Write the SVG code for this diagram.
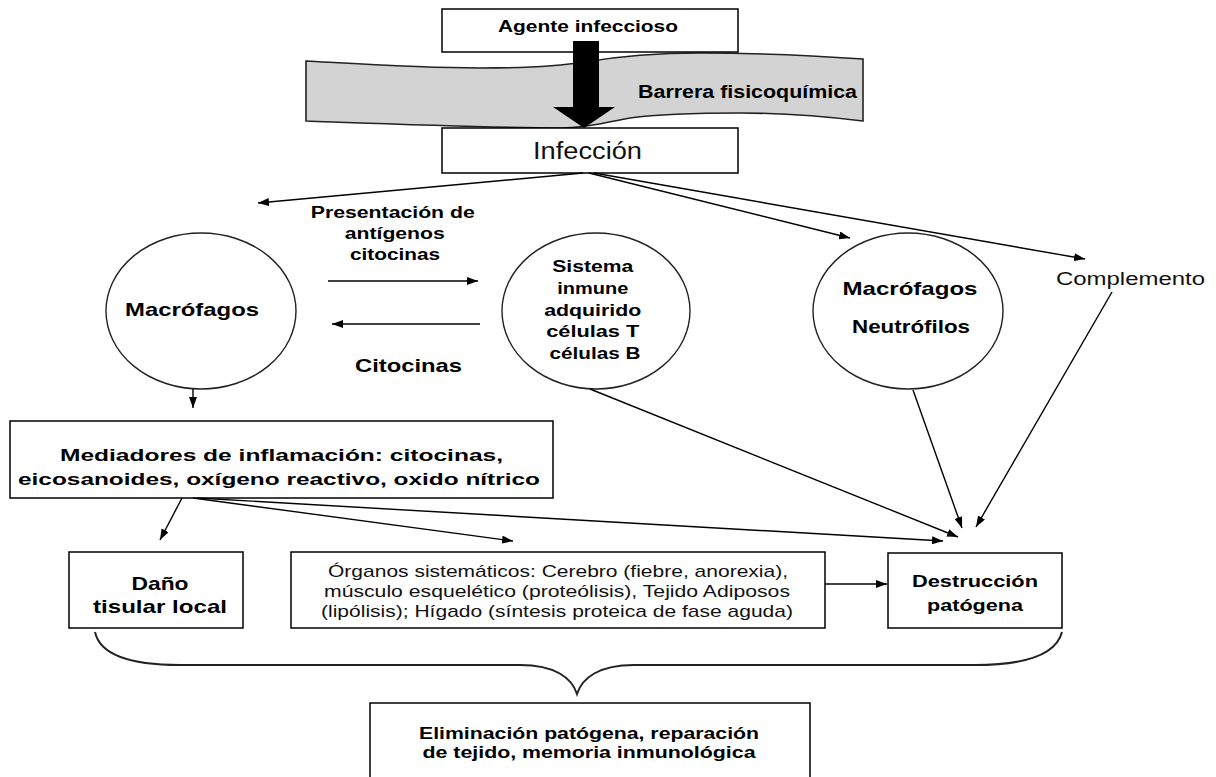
<svg xmlns="http://www.w3.org/2000/svg" width="1216" height="777" viewBox="0 0 1216 777">
<defs>
<marker id="ah" markerUnits="userSpaceOnUse" markerWidth="11" markerHeight="8" refX="11" refY="4" orient="auto">
<path d="M0,0 L11,4 L0,8 z" fill="#000"/>
</marker>
<style>
.box{fill:#fff;stroke:#000;stroke-width:1.5}
.circ{fill:#fff;stroke:#222;stroke-width:1.4}
.b{font-family:"Liberation Sans",Arial,sans-serif;font-weight:bold;fill:#000}
.r{font-family:"Liberation Sans",Arial,sans-serif;fill:#111}
.ln{fill:none;stroke:#000;stroke-width:1.4;marker-end:url(#ah)}
</style>
</defs>
<rect width="1216" height="777" fill="#fff"/>

<g id="barrera">
<path d="M306 61 C360 64 420 68 480 68 C530 68 560 66 585 62 C620 56 660 53 700 53 C760 53 820 56 863 59 L863 121 C830 117 780 113 740 113 C700 113 660 114 630 118 C600 124 580 128 560 128 C500 128 420 125 306 121 Z" fill="#d3d3d3" stroke="#222" stroke-width="1.6"/>
<text class="b" x="638" y="98" font-size="18" textLength="219" lengthAdjust="spacingAndGlyphs">Barrera fisicoquímica</text>
</g>

<g id="agente">
<rect class="box" x="442" y="9" width="296" height="43"/>
<text class="b" x="588" y="32" font-size="17" text-anchor="middle" textLength="180" lengthAdjust="spacingAndGlyphs">Agente infeccioso</text>
</g>

<g id="infeccion">
<rect class="box" x="442" y="128" width="296" height="45"/>
<text class="r" x="533" y="159" font-size="23" textLength="109" lengthAdjust="spacingAndGlyphs">Infección</text>
</g>

<g id="flecha-negra">
<path d="M573 41 L599 41 L599 107 L615 107 L584 128 L553 107 L573 107 Z" fill="#000"/>
</g>

<g id="macrofagos">
<ellipse class="circ" cx="201" cy="311" rx="95" ry="78"/>
<text class="b" x="192" y="316" font-size="19" text-anchor="middle" textLength="134" lengthAdjust="spacingAndGlyphs">Macrófagos</text>
</g>

<g id="sistema">
<ellipse class="circ" cx="596" cy="311" rx="94" ry="78"/>
<text class="b" font-size="16" text-anchor="middle">
<tspan x="595" y="272" textLength="81" lengthAdjust="spacingAndGlyphs">Sistema</tspan>
<tspan x="595" y="294" textLength="71" lengthAdjust="spacingAndGlyphs">inmune</tspan>
<tspan x="595" y="316" textLength="97" lengthAdjust="spacingAndGlyphs">adquirido</tspan>
<tspan x="595" y="337" textLength="93" lengthAdjust="spacingAndGlyphs">células T</tspan>
<tspan x="595" y="359" textLength="91" lengthAdjust="spacingAndGlyphs">células B</tspan>
</text>
</g>

<g id="macneut">
<ellipse class="circ" cx="908" cy="311" rx="95" ry="78"/>
<text class="b" x="910" y="295" font-size="19" text-anchor="middle" textLength="135" lengthAdjust="spacingAndGlyphs">Macrófagos</text>
<text class="b" x="911" y="333" font-size="19" text-anchor="middle" textLength="118" lengthAdjust="spacingAndGlyphs">Neutrófilos</text>
</g>

<g id="complemento">
<text class="r" x="1056" y="285" font-size="18" textLength="149" lengthAdjust="spacingAndGlyphs">Complemento</text>
</g>

<g id="etiquetas">
<text class="b" font-size="16" text-anchor="middle">
<tspan x="395" y="218" textLength="164" lengthAdjust="spacingAndGlyphs">Presentación de</tspan>
<tspan x="397" y="239" textLength="100" lengthAdjust="spacingAndGlyphs">antígenos</tspan>
<tspan x="395" y="260" textLength="90" lengthAdjust="spacingAndGlyphs">citocinas</tspan>
</text>
<text class="b" x="355" y="372" font-size="19" textLength="107" lengthAdjust="spacingAndGlyphs">Citocinas</text>
</g>

<g id="mediadores">
<rect class="box" x="10" y="421" width="543" height="77"/>
<text class="b" x="60" y="461" font-size="17" textLength="443" lengthAdjust="spacingAndGlyphs">Mediadores de inflamación: citocinas,</text>
<text class="b" x="18" y="485" font-size="17" textLength="522" lengthAdjust="spacingAndGlyphs">eicosanoides, oxígeno reactivo, oxido nítrico</text>
</g>

<g id="dano">
<rect class="box" x="69" y="552" width="174" height="76"/>
<text class="b" x="160" y="590" font-size="19" text-anchor="middle" textLength="57" lengthAdjust="spacingAndGlyphs">Daño</text>
<text class="b" x="160" y="613" font-size="19" text-anchor="middle" textLength="134" lengthAdjust="spacingAndGlyphs">tisular local</text>
</g>

<g id="organos">
<rect class="box" x="291" y="552" width="534" height="76"/>
<text class="r" x="558" y="577" font-size="17" text-anchor="middle" textLength="460" lengthAdjust="spacingAndGlyphs">Órganos sistemáticos: Cerebro (fiebre, anorexia),</text>
<text class="r" x="557" y="597" font-size="17" text-anchor="middle" textLength="466" lengthAdjust="spacingAndGlyphs">músculo esquelético (proteólisis), Tejido Adiposos</text>
<text class="r" x="557" y="617" font-size="17" text-anchor="middle" textLength="472" lengthAdjust="spacingAndGlyphs">(lipólisis); Hígado (síntesis proteica de fase aguda)</text>
</g>

<g id="destruccion">
<rect class="box" x="888" y="553" width="174" height="75"/>
<text class="b" x="975" y="587" font-size="17" text-anchor="middle" textLength="126" lengthAdjust="spacingAndGlyphs">Destrucción</text>
<text class="b" x="975" y="611" font-size="17" text-anchor="middle" textLength="96" lengthAdjust="spacingAndGlyphs">patógena</text>
</g>

<g id="llave">
<path d="M95 632 C100 655 130 665 180 665 L520 665 C555 665 572 678 577 694 C582 678 599 665 634 665 L975 665 C1025 665 1056 655 1062 632" fill="none" stroke="#222" stroke-width="2"/>
</g>

<g id="eliminacion">
<rect class="box" x="370" y="703" width="440" height="90"/>
<text class="b" x="589" y="739" font-size="16" text-anchor="middle" textLength="340" lengthAdjust="spacingAndGlyphs">Eliminación patógena, reparación</text>
<text class="b" x="589" y="758" font-size="16" text-anchor="middle" textLength="333" lengthAdjust="spacingAndGlyphs">de tejido, memoria inmunológica</text>
</g>

<g id="conectores">
<line class="ln" x1="583" y1="173" x2="258" y2="203"/>
<line class="ln" x1="589" y1="173" x2="850" y2="238"/>
<line class="ln" x1="594" y1="173" x2="1085" y2="259"/>
<line class="ln" x1="328" y1="281" x2="478" y2="281"/>
<line class="ln" x1="480" y1="324" x2="332" y2="324"/>
<line class="ln" x1="193" y1="389" x2="193" y2="408"/>
<line class="ln" x1="590" y1="389" x2="958" y2="537"/>
<line class="ln" x1="913" y1="390" x2="962" y2="528"/>
<line class="ln" x1="1112" y1="292" x2="976" y2="527"/>
<line class="ln" x1="182" y1="498" x2="160" y2="540"/>
<line class="ln" x1="193" y1="498" x2="513" y2="541"/>
<line class="ln" x1="197" y1="498" x2="943" y2="541"/>
<line class="ln" x1="825" y1="584" x2="887" y2="584"/>
</g>
</svg>
